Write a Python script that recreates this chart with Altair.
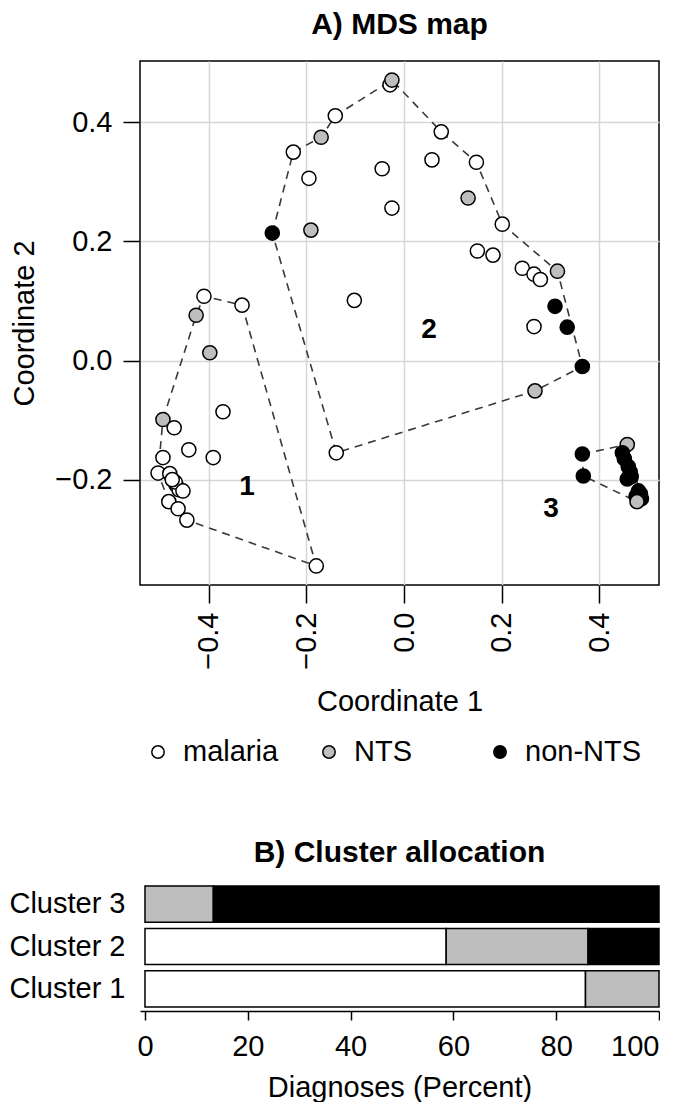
import altair as alt
import pandas as pd

FONT = "Liberation Sans"

# ---------------- Panel A: MDS map ----------------
diag_names = ["malaria", "NTS", "non-NTS"]
diag_colors = ["#FFFFFF", "#BEBEBE", "#000000"]

# cluster 1
c1_x = [-0.426, -0.410, -0.332, -0.398, -0.371, -0.494, -0.471, -0.441, -0.391, -0.494,
        -0.504, -0.480, -0.467, -0.461, -0.469, -0.453, -0.475, -0.482, -0.463, -0.445, -0.180]
c1_y = [0.076, 0.108, 0.093, 0.013, -0.086, -0.099, -0.113, -0.150, -0.163, -0.163,
        -0.189, -0.190, -0.209, -0.217, -0.204, -0.219, -0.200, -0.237, -0.249, -0.268, -0.345]
c1_d = ["NTS", "malaria", "malaria", "NTS", "malaria", "NTS", "malaria", "malaria", "malaria", "malaria",
        "malaria", "malaria", "malaria", "malaria", "malaria", "malaria", "malaria", "malaria", "malaria", "malaria", "malaria"]
c1_hull = [5, 0, 1, 2, 20, 19, 17, 10, 5]

# cluster 2
c2_x = [-0.029, -0.025, -0.141, -0.170, -0.227, -0.195, -0.045, -0.025, -0.270, -0.191,
        -0.102, 0.076, 0.057, 0.148, 0.131, 0.201, 0.150, 0.182, 0.242, 0.266,
        0.279, 0.314, 0.309, 0.334, 0.266, 0.365, 0.268, -0.139]
c2_y = [0.463, 0.471, 0.411, 0.375, 0.350, 0.306, 0.322, 0.256, 0.214, 0.219,
        0.101, 0.384, 0.337, 0.333, 0.273, 0.229, 0.184, 0.177, 0.155, 0.145,
        0.136, 0.150, 0.091, 0.056, 0.057, -0.010, -0.051, -0.155]
c2_d = ["malaria", "NTS", "malaria", "NTS", "malaria", "malaria", "malaria", "malaria", "non-NTS", "NTS",
        "malaria", "malaria", "malaria", "malaria", "NTS", "malaria", "malaria", "malaria", "malaria", "malaria",
        "malaria", "NTS", "non-NTS", "non-NTS", "malaria", "non-NTS", "NTS", "malaria"]
c2_hull = [8, 4, 3, 2, 1, 11, 13, 15, 21, 25, 26, 27, 8]

# cluster 3
c3_x = [0.457, 0.365, 0.367, 0.447, 0.451, 0.459, 0.463, 0.465, 0.457, 0.484,
        0.480, 0.486, 0.482, 0.475, 0.477]
c3_y = [-0.141, -0.157, -0.194, -0.155, -0.165, -0.178, -0.187, -0.195, -0.199, -0.224,
        -0.219, -0.232, -0.229, -0.228, -0.237]
c3_d = ["NTS", "non-NTS", "non-NTS", "non-NTS", "non-NTS", "non-NTS", "non-NTS", "non-NTS", "non-NTS", "non-NTS",
        "non-NTS", "non-NTS", "non-NTS", "non-NTS", "NTS"]
c3_hull = [1, 0, 11, 14, 2, 1]

label_x = [-0.322, 0.051, 0.301]
label_y = [-0.212, 0.051, -0.249]
label_text = ["1", "2", "3"]

x_ticks = [-0.4, -0.2, 0.0, 0.2, 0.4]
y_ticks = [-0.2, 0.0, 0.2, 0.4]

# ---------------- Panel B: cluster allocation ----------------
bar_clusters = ["Cluster 1", "Cluster 2", "Cluster 3"]
pct_malaria = [85.7, 58.6, 0.0]
pct_nts = [14.3, 27.6, 13.3]
pct_nonnts = [0.0, 13.8, 86.7]
pct_ticks = [0, 20, 40, 60, 80, 100]

# ---------------- build tables ----------------
pts_rows, hull_rows = [], []
for cid, (xs_, ys_, ds_, hull) in enumerate(
        [(c1_x, c1_y, c1_d, c1_hull), (c2_x, c2_y, c2_d, c2_hull), (c3_x, c3_y, c3_d, c3_hull)], start=1):
    for x, y, d in zip(xs_, ys_, ds_):
        pts_rows.append({"x": x, "y": y, "diagnosis": d, "cluster": cid})
    for k, idx in enumerate(hull):
        hull_rows.append({"x": xs_[idx], "y": ys_[idx], "cluster": cid, "seq": k})
pts = pd.DataFrame(pts_rows)
hull_df = pd.DataFrame(hull_rows)
labels_df = pd.DataFrame({"x": label_x, "y": label_y, "t": label_text})
legend_df = pd.DataFrame({"diagnosis": diag_names})

bar_rows = []
for c, a, b, d in zip(bar_clusters, pct_malaria, pct_nts, pct_nonnts):
    for k, (name, v) in enumerate(zip(diag_names, [a, b, d])):
        if v > 0:
            bar_rows.append({"cluster": c, "diagnosis": name, "pct": v, "k": k})
bar_df = pd.DataFrame(bar_rows)

FS = 29
fill_scale = alt.Scale(domain=diag_names, range=diag_colors)
xscale = alt.Scale(domain=[-0.541, 0.522], nice=False, zero=False)
yscale = alt.Scale(domain=[-0.377, 0.503], nice=False, zero=False)

x_axis = alt.Axis(values=x_ticks, format=".1f", labelAngle=-90, title="Coordinate 1",
                  grid=True, gridColor="#D6D6D6", gridWidth=1.5, domain=False,
                  tickSize=18, tickWidth=1.5, tickColor="black", labelPadding=9,
                  labelFontSize=FS, titleFontSize=FS, titlePadding=18,
                  titleFontWeight="normal", labelColor="black", titleColor="black")
y_axis = alt.Axis(values=y_ticks, format=".1f", title="Coordinate 2",
                  grid=True, gridColor="#D6D6D6", gridWidth=1.5, domain=False,
                  tickSize=17, tickWidth=1.5, tickColor="black", labelPadding=11,
                  labelFontSize=FS, titleFontSize=FS, titlePadding=15,
                  titleFontWeight="normal", labelColor="black", titleColor="black")

hull_layer = alt.Chart(hull_df).mark_line(strokeDash=[8, 6], color="#3A3A3A", strokeWidth=1.6).encode(
    x=alt.X("x:Q", scale=xscale, axis=x_axis),
    y=alt.Y("y:Q", scale=yscale, axis=y_axis),
    detail="cluster:N",
    order="seq:Q",
)

pt_layer = alt.Chart(pts).mark_circle(size=200, stroke="black", strokeWidth=1.5, opacity=1).encode(
    x=alt.X("x:Q", scale=xscale),
    y=alt.Y("y:Q", scale=yscale),
    fill=alt.Fill("diagnosis:N", scale=fill_scale, legend=None),
)

text_layer = alt.Chart(labels_df).mark_text(fontSize=28, fontWeight="bold", font=FONT, color="black").encode(
    x=alt.X("x:Q", scale=xscale),
    y=alt.Y("y:Q", scale=yscale),
    text="t:N",
)

top = alt.layer(hull_layer, pt_layer, text_layer).properties(
    width=519, height=524,
    title=alt.TitleParams("A) MDS map", fontSize=30, fontWeight="bold", font=FONT, offset=21, color="black"),
    view=alt.ViewBackground(stroke="black", strokeWidth=1.5),
)

# legend row: three keys spread evenly under panel A
leg_base = alt.Chart(legend_df).encode(
    x=alt.X("diagnosis:N", sort=diag_names,
            scale=alt.Scale(type="point", domain=diag_names, range=[18, 360], padding=0), axis=None)
)
leg_sym = leg_base.mark_circle(size=154, stroke="black", strokeWidth=1.5, opacity=1).encode(
    fill=alt.Fill("diagnosis:N", scale=fill_scale, legend=None)
)
leg_txt = leg_base.mark_text(align="left", dx=25, fontSize=FS, font=FONT, color="black").encode(
    text="diagnosis:N"
)
legend_row = alt.layer(leg_sym, leg_txt).properties(
    width=519, height=30, view=alt.ViewBackground(strokeWidth=0)
)

bottom = alt.Chart(bar_df).mark_bar(stroke="black", strokeWidth=1.5).encode(
    x=alt.X("pct:Q", stack="zero",
            scale=alt.Scale(domain=[-0.97, 100], nice=False, zero=False),
            axis=alt.Axis(values=pct_ticks, format="d", title="Diagnoses (Percent)", grid=False,
                          offset=2, tickSize=9, tickWidth=1.5, tickColor="black",
                          domainColor="black", domainWidth=1.5, labelPadding=12,
                          labelFontSize=FS, titleFontSize=FS, titleFontWeight="normal",
                          titlePadding=12, labelColor="black", titleColor="black")),
    y=alt.Y("cluster:N", sort=["Cluster 3", "Cluster 2", "Cluster 1"],
            scale=alt.Scale(paddingInner=0.15, paddingOuter=0.05),
            axis=alt.Axis(title=None, ticks=False, domain=False, labelPadding=15,
                          labelFontSize=FS, labelColor="black")),
    fill=alt.Fill("diagnosis:N", scale=fill_scale, legend=None),
    order=alt.Order("k:Q"),
).properties(
    width=519, height=125,
    title=alt.TitleParams("B) Cluster allocation", fontSize=30, fontWeight="bold", font=FONT, offset=16, color="black"),
    view=alt.ViewBackground(strokeWidth=0),
)

upper = alt.vconcat(top, legend_row, spacing=20)
chart = alt.vconcat(upper, bottom, spacing=71).configure(
    font=FONT, padding={"left": 0, "top": 1, "right": 0, "bottom": 0}
).configure_axis(labelFont=FONT, titleFont=FONT).configure_view(strokeWidth=0)

chart.save("out.html", embed_options={"renderer": "svg", "actions": False})
